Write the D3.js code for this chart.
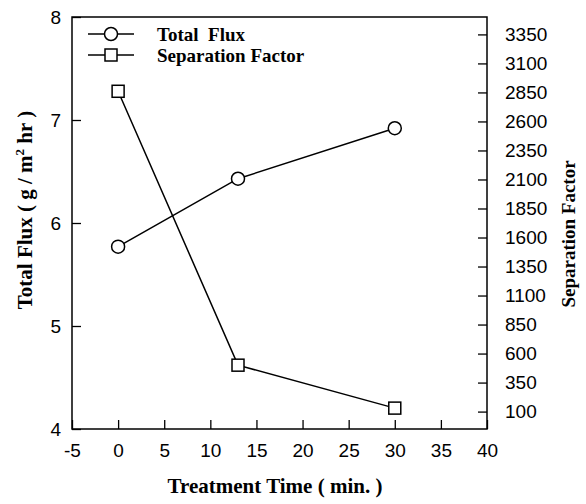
<!DOCTYPE html>
<html>
<head>
<meta charset="utf-8">
<script src="https://cdn.jsdelivr.net/npm/d3@7"></script>
<style>
  html, body { margin: 0; padding: 0; background: #fff; }
  svg { display: block; }
</style>
</head>
<body>
<svg id="chart" width="586" height="504"></svg>
<script>
const time = [0, 13, 30];
const totalFlux = [5.77, 6.43, 6.92];
const separationFactor = [2860, 500, 130];
const xTicks = [-5, 0, 5, 10, 15, 20, 25, 30, 35, 40];
const leftTicks = [4, 5, 6, 7, 8];
const rightTicks = [100, 350, 600, 850, 1100, 1350, 1600, 1850, 2100, 2350, 2600, 2850, 3100, 3350];
const seriesNames = ["Total  Flux", "Separation Factor"];

const svg = d3.select("#chart");
const L = 72, R = 487, T = 17, B = 429;
const sans = "'Liberation Sans', Arial, sans-serif";
const serif = "'Liberation Serif', 'Times New Roman', serif";
const fmt = d => String(d);

const x = d3.scaleLinear().domain([-5, 40]).range([L, R]);
const yL = d3.scaleLinear().domain([4, 8]).range([B, T]);
const yR = d3.scaleLinear().domain([-50, 3500]).range([B, T]);

// frame
svg.append("rect").attr("x", L).attr("y", T).attr("width", R - L).attr("height", B - T)
  .attr("fill", "none").attr("stroke", "#000").attr("stroke-width", 1.5);

const xAxis = svg.append("g").attr("transform", `translate(0,${B})`)
  .call(d3.axisBottom(x).tickValues(xTicks).tickFormat(fmt).tickSizeInner(-9).tickSizeOuter(0).tickPadding(15));
const yAxisL = svg.append("g").attr("transform", `translate(${L},0)`)
  .call(d3.axisLeft(yL).tickValues(leftTicks).tickFormat(fmt).tickSizeInner(-9).tickSizeOuter(0).tickPadding(11));
const yAxisR = svg.append("g").attr("transform", `translate(${R},0)`)
  .call(d3.axisRight(yR).tickValues(rightTicks).tickFormat(fmt).tickSizeInner(-9).tickSizeOuter(0).tickPadding(18));

[xAxis, yAxisL, yAxisR].forEach(g => {
  g.select(".domain").remove();
  g.selectAll(".tick line").attr("stroke", "#000").attr("stroke-width", 1.3);
  g.selectAll(".tick text").attr("font-family", sans).attr("font-size", 19).attr("fill", "#000");
});
yAxisR.selectAll(".tick text").attr("text-anchor", "start");

// lines
const lineFlux = d3.line().x((d, i) => x(time[i])).y(d => yL(d));
const lineSF = d3.line().x((d, i) => x(time[i])).y(d => yR(d));
svg.append("path").attr("d", lineFlux(totalFlux)).attr("fill", "none").attr("stroke", "#000").attr("stroke-width", 1.5);
svg.append("path").attr("d", lineSF(separationFactor)).attr("fill", "none").attr("stroke", "#000").attr("stroke-width", 1.5);

svg.selectAll(".flux").data(totalFlux).enter().append("circle")
  .attr("cx", (d, i) => x(time[i])).attr("cy", d => yL(d)).attr("r", 6.5)
  .attr("fill", "#fff").attr("stroke", "#000").attr("stroke-width", 1.5);
const s = 12;
svg.selectAll(".sf").data(separationFactor).enter().append("rect")
  .attr("x", (d, i) => x(time[i]) - s / 2).attr("y", d => yR(d) - s / 2)
  .attr("width", s).attr("height", s)
  .attr("fill", "#fff").attr("stroke", "#000").attr("stroke-width", 1.5);

// legend
const lg = svg.append("g");
[0, 1].forEach(i => {
  const ly = 34 + i * 21;
  lg.append("line").attr("x1", 88).attr("x2", 134).attr("y1", ly).attr("y2", ly)
    .attr("stroke", "#000").attr("stroke-width", 1.5);
  if (i === 0) {
    lg.append("circle").attr("cx", 111).attr("cy", ly).attr("r", 6.5)
      .attr("fill", "#fff").attr("stroke", "#000").attr("stroke-width", 1.5);
  } else {
    lg.append("rect").attr("x", 111 - 6).attr("y", ly - 6).attr("width", 12).attr("height", 12)
      .attr("fill", "#fff").attr("stroke", "#000").attr("stroke-width", 1.5);
  }
  lg.append("text").attr("x", 157).attr("y", ly + 7).text(seriesNames[i])
    .attr("font-family", serif).attr("font-weight", "bold").attr("font-size", 19)
    .style("white-space", "pre").attr("xml:space", "preserve");
});

// axis titles
svg.append("text").attr("x", 275).attr("y", 493).attr("text-anchor", "middle")
  .attr("font-family", serif).attr("font-weight", "bold").attr("font-size", 21)
  .text("Treatment Time ( min. )");

const lt = svg.append("text").attr("transform", "translate(32,210) rotate(-90)")
  .attr("text-anchor", "middle")
  .attr("font-family", serif).attr("font-weight", "bold").attr("font-size", 21);
lt.append("tspan").text("Total Flux ( g / m");
lt.append("tspan").attr("dy", -8).attr("font-size", 13).text("2");
lt.append("tspan").attr("dy", 8).text(" hr )");

svg.append("text").attr("transform", "translate(575,234) rotate(-90)")
  .attr("text-anchor", "middle")
  .attr("font-family", serif).attr("font-weight", "bold").attr("font-size", 19)
  .text("Separation Factor");
</script>
</body>
</html>
